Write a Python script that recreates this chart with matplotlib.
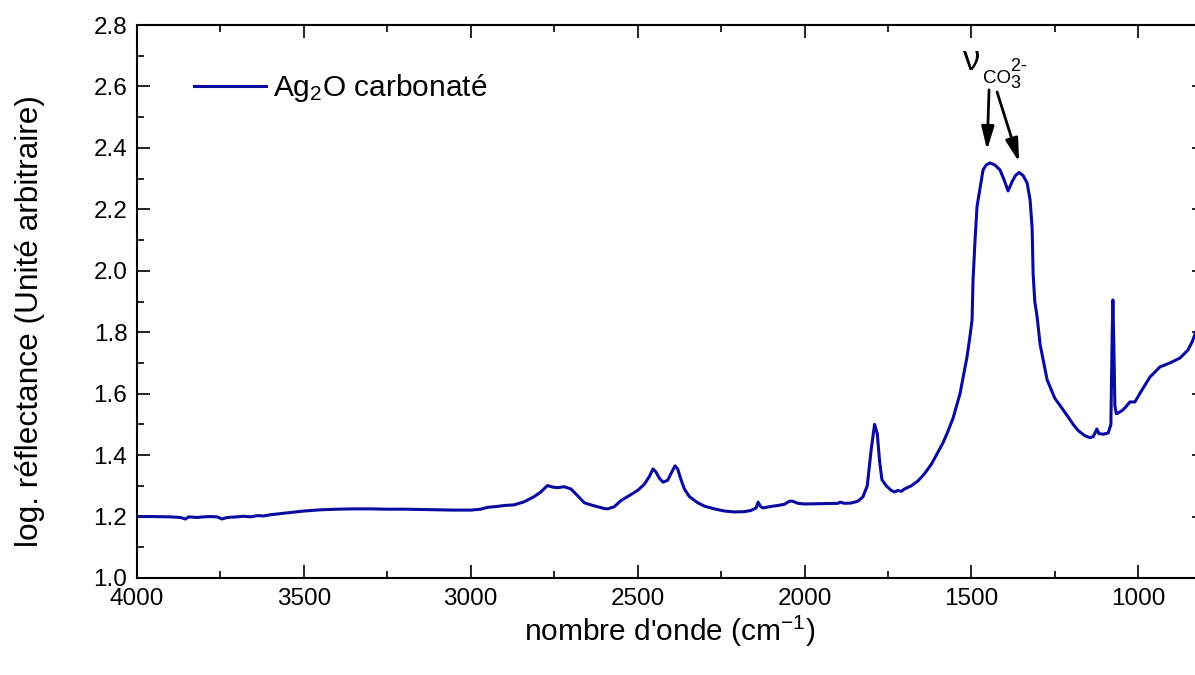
import matplotlib
matplotlib.use('Agg')
import matplotlib.pyplot as plt
from matplotlib.ticker import MultipleLocator, FormatStrFormatter

plt.rcParams['font.family'] = ['Liberation Sans', 'DejaVu Sans']
plt.rcParams['mathtext.fontset'] = 'custom'
plt.rcParams['mathtext.rm'] = 'Liberation Sans'
plt.rcParams['mathtext.it'] = 'Liberation Sans:italic'
plt.rcParams['mathtext.default'] = 'regular'

# spectrum (wavenumber cm-1, log reflectance)
wavenumber = [
    4000, 3950, 3900, 3870, 3855, 3845, 3820, 3800, 3780, 3760, 3745, 3730,
    3700, 3680, 3660, 3640, 3620, 3600, 3550, 3500, 3450, 3400, 3350, 3300,
    3250, 3200, 3150, 3100, 3050, 3000, 2970, 2950, 2920, 2900, 2870, 2840,
    2810, 2790, 2770, 2755, 2740, 2720, 2700, 2680, 2660, 2640, 2620, 2600,
    2590, 2570, 2550, 2530, 2500, 2480, 2465, 2454, 2445, 2435, 2424, 2410,
    2400, 2388, 2380, 2370, 2360, 2345, 2320, 2300, 2270, 2240, 2210, 2180,
    2160, 2145, 2139, 2132, 2125, 2100, 2080, 2060, 2045, 2035, 2020, 2000,
    1950, 1900, 1893, 1880, 1860, 1840, 1825, 1812, 1800, 1790, 1782, 1775,
    1768, 1755, 1740, 1730, 1720, 1710, 1700, 1680, 1660, 1640, 1620, 1600,
    1585, 1573, 1555, 1534, 1513, 1505, 1498, 1495, 1489, 1483, 1474, 1465,
    1455, 1444, 1429, 1414, 1402, 1390, 1378, 1368, 1357, 1345, 1333, 1324,
    1318, 1315, 1310, 1303, 1294, 1273, 1250, 1230, 1210, 1195, 1180, 1160,
    1145, 1135, 1124, 1118, 1105, 1090, 1082, 1078, 1076, 1073, 1070, 1066,
    1060, 1046, 1035, 1025, 1010, 990, 965, 935, 905, 875, 851, 838, 828,
]
reflectance = [
    1.200, 1.200, 1.199, 1.197, 1.192, 1.199, 1.197, 1.199, 1.200, 1.199, 1.192, 1.197,
    1.199, 1.201, 1.199, 1.203, 1.202, 1.206, 1.212, 1.218, 1.222, 1.224, 1.225, 1.225,
    1.224, 1.224, 1.223, 1.222, 1.221, 1.221, 1.224, 1.230, 1.233, 1.236, 1.238, 1.248,
    1.265, 1.280, 1.301, 1.296, 1.294, 1.297, 1.290, 1.268, 1.245, 1.238, 1.232, 1.226,
    1.225, 1.232, 1.252, 1.265, 1.285, 1.305, 1.330, 1.355, 1.345, 1.325, 1.312, 1.318,
    1.340, 1.365, 1.355, 1.320, 1.290, 1.265, 1.245, 1.234, 1.225, 1.218, 1.215, 1.216,
    1.220, 1.228, 1.247, 1.233, 1.228, 1.233, 1.236, 1.240, 1.250, 1.250, 1.243, 1.241,
    1.242, 1.243, 1.247, 1.243, 1.244, 1.250, 1.264, 1.300, 1.420, 1.500, 1.470, 1.380,
    1.320, 1.300, 1.285, 1.280, 1.285, 1.282, 1.290, 1.300, 1.316, 1.340, 1.370, 1.410,
    1.440, 1.470, 1.520, 1.600, 1.720, 1.780, 1.840, 1.970, 2.100, 2.210, 2.270, 2.328,
    2.345, 2.351, 2.344, 2.328, 2.296, 2.260, 2.290, 2.310, 2.320, 2.310, 2.286, 2.230,
    2.140, 1.990, 1.900, 1.850, 1.760, 1.645, 1.585, 1.555, 1.524, 1.500, 1.480, 1.463,
    1.457, 1.460, 1.485, 1.470, 1.468, 1.472, 1.500, 1.800, 1.905, 1.750, 1.560, 1.535,
    1.537, 1.547, 1.560, 1.573, 1.573, 1.610, 1.654, 1.687, 1.700, 1.716, 1.742, 1.770, 1.800,
]

fig = plt.figure(figsize=(11.95, 6.75), dpi=100)
ax = fig.add_axes([137 / 1195, 97 / 675, 1068 / 1195, 553 / 675])

ax.plot(wavenumber, reflectance, color='#0a0aa0', lw=2.2, label=r'Ag$_2$O carbonaté')

ax.set_xlim(4000, 800)
ax.set_ylim(1.0, 2.8)
ax.xaxis.set_major_locator(MultipleLocator(500))
ax.xaxis.set_minor_locator(MultipleLocator(250))
ax.yaxis.set_major_locator(MultipleLocator(0.2))
ax.yaxis.set_minor_locator(MultipleLocator(0.1))
ax.yaxis.set_major_formatter(FormatStrFormatter('%.1f'))

ax.tick_params(which='both', direction='in', top=True, right=True, width=1.2,
               labelsize=17.5, pad=7)
ax.tick_params(which='major', length=9.5)
ax.tick_params(which='minor', length=5)
for sp in ax.spines.values():
    sp.set_linewidth(1.5)

ax.set_xlabel(r"nombre d'onde (cm$^{-1}$)", fontsize=21.5)
ax.set_ylabel('log. réflectance (Unité arbitraire)', fontsize=22.8)
ax.xaxis.set_label_coords(0.499, -0.064)
ax.yaxis.set_label_coords(-0.086, 0.465)

ax.legend(loc='center left', bbox_to_anchor=(0.0534, 0.886), frameon=False,
          fontsize=21.5, handlelength=2.4, handletextpad=0.24,
          borderpad=0, borderaxespad=0)

# carbonate band annotation
ax.text(1525, 2.654, 'ν', fontsize=25, ha='left', va='baseline')
ax.text(1465, 2.611, 'CO', fontsize=13.5, ha='left', va='baseline')
ax.text(1384, 2.611, '$_{3}^{2\u2010}$', fontsize=18.5, ha='left', va='baseline')
arrow = dict(arrowstyle='-|>,head_length=1.4,head_width=0.38', lw=2,
             color='black', shrinkA=0, shrinkB=0)
ax.annotate('', xy=(1453, 2.393), xytext=(1447, 2.589), arrowprops=arrow)
ax.annotate('', xy=(1357, 2.354), xytext=(1423, 2.582), arrowprops=arrow)

fig.savefig('out.png', dpi=100)
